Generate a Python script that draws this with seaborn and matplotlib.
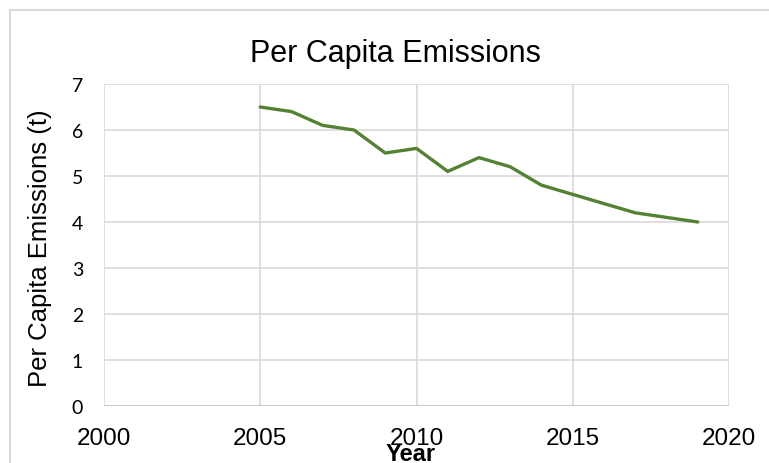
import matplotlib
matplotlib.use('Agg')
import matplotlib.pyplot as plt
import seaborn as sns
import pandas as pd
from matplotlib.lines import Line2D

# --- data ---
years = [2005, 2006, 2007, 2008, 2009, 2010, 2011, 2012, 2013, 2014, 2015, 2016, 2017, 2018, 2019]
emissions = [6.5, 6.4, 6.1, 6.0, 5.5, 5.6, 5.1, 5.4, 5.2, 4.8, 4.6, 4.4, 4.2, 4.1, 4.0]
x_ticks = [2000, 2005, 2010, 2015, 2020]
y_ticks = [0, 1, 2, 3, 4, 5, 6, 7]

df = pd.DataFrame({'Year': years, 'Emissions': emissions})

sns.set_theme(style='white')
plt.rcParams['font.family'] = ['Liberation Sans', 'DejaVu Sans']
plt.rcParams['text.color'] = 'black'
plt.rcParams['axes.labelcolor'] = 'black'
plt.rcParams['xtick.color'] = 'black'
plt.rcParams['ytick.color'] = 'black'

W, H = 769, 464
fig = plt.figure(figsize=(W / 100, H / 100), dpi=100)
ax = fig.add_axes([104 / W, 1 - 407 / H, 625 / W, 322 / H])

sns.lineplot(data=df, x='Year', y='Emissions', color='#548235', linewidth=2.4, ax=ax)

ax.set_xlim(2000, 2020)
ax.set_ylim(0, 7)
ax.set_xticks(x_ticks)
ax.set_yticks(y_ticks)
ax.set_xticklabels([str(t) for t in x_ticks], fontsize=17.5)
ax.set_yticklabels([str(t) for t in y_ticks], fontsize=14, family=['Lato', 'DejaVu Sans'])
ax.tick_params(axis='x', length=0, pad=15)
ax.tick_params(axis='y', length=0, pad=15)
ax.grid(True, color='#d9d9d9', linewidth=1.2)
for s in ax.spines.values():
    s.set_visible(False)
ax.axhline(0, color='#c8c8c8', linewidth=1.4, zorder=1)

ax.set_xlabel('')
ax.set_ylabel('Per Capita Emissions (t)', fontsize=18.5)
ax.yaxis.set_label_coords(-0.083, 0.494)

fig.text(0.514, 1 - 62 / H, 'Per Capita Emissions', ha='center', va='baseline', fontsize=22)
fig.text(411 / W, 3 / H, 'Year', ha='center', va='baseline', fontsize=17, fontweight='bold',
         family=['Liberation Sans Narrow', 'Liberation Sans'])

# outer chart border (only top and left edges are visible in the crop)
fig.add_artist(Line2D([10 / W, 1], [1 - 11 / H, 1 - 11 / H], transform=fig.transFigure,
                      color='#d9d9d9', linewidth=1.5))
fig.add_artist(Line2D([10 / W, 10 / W], [0, 1 - 11 / H], transform=fig.transFigure,
                      color='#d9d9d9', linewidth=1.5))

fig.savefig('out.png', dpi=100)
